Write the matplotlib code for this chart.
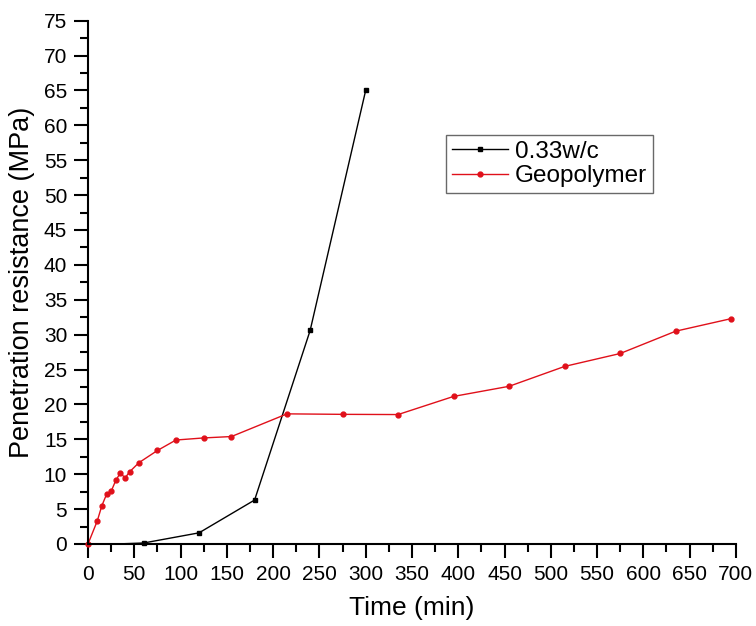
import numpy as np
import matplotlib
matplotlib.use('Agg')
import matplotlib.pyplot as plt
from matplotlib.ticker import MultipleLocator

plt.rcParams['font.family'] = ['Liberation Sans', 'DejaVu Sans']

# datos
t_wc = [30, 60, 120, 180, 240, 300]
r_wc = [0.0, 0.14, 1.6, 6.3, 30.6, 65.0]

t_geo = [0, 10, 15, 20, 25, 30, 35, 40, 45, 55, 75, 95, 125, 155,
         215, 275, 335, 395, 455, 515, 575, 635, 695]
r_geo = [0.0, 3.3, 5.5, 7.1, 7.55, 9.1, 10.2, 9.45, 10.35, 11.65, 13.4, 14.9, 15.2, 15.4,
         18.65, 18.58, 18.55, 21.15, 22.6, 25.45, 27.3, 30.5, 32.3]

fig = plt.figure(figsize=(7.56, 6.26), dpi=100)
ax = fig.add_axes([0.1164, 0.131, 0.857, 0.836])

ax.plot(t_wc, r_wc, color='black', lw=1.0, marker='s', ms=2.5, markevery=list(range(1, len(t_wc))),
        label='0.33w/c', clip_on=False)
ax.plot(t_geo, r_geo, color='#e0101a', lw=1.0, marker='o', ms=3.5, label='Geopolymer', clip_on=False)

ax.set_xlim(0, 700)
ax.set_ylim(0, 75)
ax.xaxis.set_major_locator(MultipleLocator(50))
ax.xaxis.set_minor_locator(MultipleLocator(25))
ax.yaxis.set_major_locator(MultipleLocator(5))
ax.yaxis.set_minor_locator(MultipleLocator(2.5))

for s in ['top', 'right']:
    ax.spines[s].set_visible(False)
for s in ['left', 'bottom']:
    ax.spines[s].set_linewidth(1.5)

ax.tick_params(which='major', direction='out', length=10, width=1.5, labelsize=15, pad=5)
ax.tick_params(which='minor', direction='out', length=6, width=1.5)

ax.set_xlabel('Time (min)', fontsize=19, labelpad=9)
ax.set_ylabel('Penetration resistance (MPa)', fontsize=19.5, labelpad=6)

leg = ax.legend(loc='upper left', bbox_to_anchor=(0.552, 0.782), borderaxespad=0,
                fontsize=17.5, frameon=True, fancybox=False, handlelength=2.3,
                handletextpad=0.3, borderpad=0.25, labelspacing=0.1)
leg.get_frame().set_edgecolor('#444444')
leg.get_frame().set_linewidth(1.0)

fig.savefig('out.png', dpi=100)
